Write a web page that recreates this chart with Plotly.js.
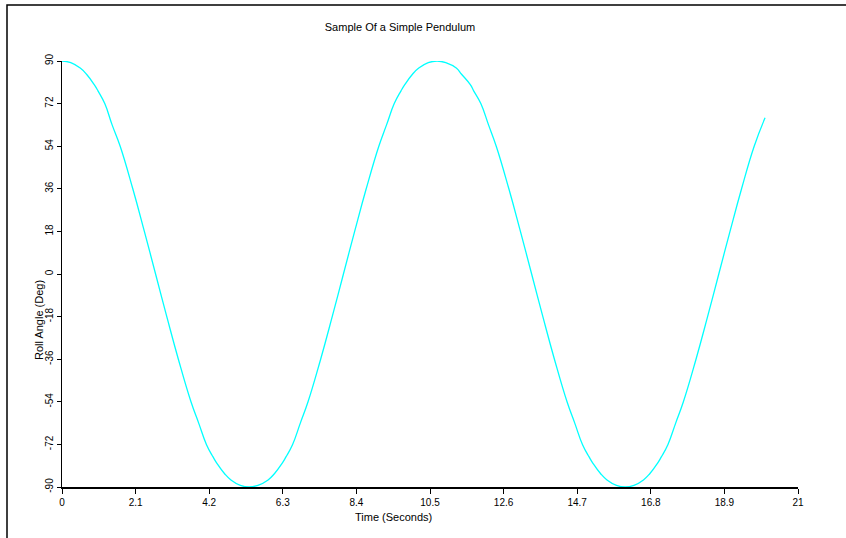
<!DOCTYPE html>
<html>
<head>
<meta charset="utf-8">
<script src="https://cdn.plot.ly/plotly-3.0.1.min.js"></script>
<style>
  html, body { margin: 0; padding: 0; background: #fff; }
  #chart { width: 846px; height: 538px; }
</style>
</head>
<body>
<div id="chart"></div>
<script>
// Pendulum roll angle samples over time (two and a bit swings)
const timeSec = [
  0, 0.25, 0.52, 0.70, 0.92, 1.03, 1.22, 1.43, 1.66, 2.02, 2.35, 2.67, 2.99, 3.32, 3.68, 3.90, 4.12, 4.31, 4.42, 4.64, 4.82, 5.09, 5.34,
  5.59, 5.88, 6.06, 6.28, 6.39, 6.58, 6.80, 7.02, 7.38, 7.71, 8.03, 8.35, 8.68, 9.04, 9.26, 9.48, 9.67, 9.78, 10.00, 10.18, 10.45, 10.70,
  10.95, 11.25, 11.40, 11.65, 11.75, 11.95, 12.17, 12.39, 12.75, 13.08, 13.40, 13.72, 14.05, 14.41, 14.63, 14.85, 15.04, 15.15, 15.37, 15.55, 15.82, 16.07,
  16.32, 16.59, 16.77, 16.99, 17.10, 17.29, 17.51, 17.73, 18.09, 18.42, 18.74, 19.06, 19.39, 19.75, 20.06
];
const rollDeg = [
  90, 89.3, 87, 84.4, 80, 77.3, 72, 63, 54, 36, 18, 0, -18, -36, -54, -63, -72, -77.3, -80, -84.4, -87, -89.3, -90,
  -89.3, -87, -84.4, -80, -77.3, -72, -63, -54, -36, -18, 0, 18, 36, 54, 63, 72, 77.3, 80, 84.4, 87, 89.3, 90,
  89.3, 87, 84.4, 80, 77.3, 72, 63, 54, 36, 18, 0, -18, -36, -54, -63, -72, -77.3, -80, -84.4, -87, -89.3, -90,
  -89.3, -87, -84.4, -80, -77.3, -72, -63, -54, -36, -18, 0, 18, 36, 54, 66
];

const xTicks = [0, 2.1, 4.2, 6.3, 8.4, 10.5, 12.6, 14.7, 16.8, 18.9, 21];
const yTicks = [-90, -72, -54, -36, -18, 0, 18, 36, 54, 72, 90];

const fontFamily = '"Liberation Sans", Arial, sans-serif';

const trace = {
  x: timeSec,
  y: rollDeg,
  type: 'scatter',
  mode: 'lines',
  line: { color: '#00ffff', width: 1.3, shape: 'spline', smoothing: 1.3 },
  hoverinfo: 'x+y'
};

// plot area: 62..798 px horizontally, 61..487 px vertically
const L = 62, R = 798, T = 61, B = 487, W = 846, H = 538;
const px = v => (v - L) / (R - L);
const py = v => (B - v) / (B - T);

const layout = {
  width: W,
  height: H,
  margin: { l: L, r: W - R, t: T, b: H - B, pad: 0 },
  paper_bgcolor: '#ffffff',
  plot_bgcolor: '#ffffff',
  showlegend: false,
  font: { family: fontFamily, color: '#000', size: 10 },
  title: {
    text: 'Sample Of a Simple Pendulum',
    font: { family: fontFamily, size: 11, color: '#000' },
    x: 400 / W, xanchor: 'center', xref: 'container',
    y: 1 - 27 / H, yanchor: 'middle', yref: 'container'
  },
  xaxis: {
    range: [0, 21],
    tickvals: xTicks,
    ticktext: xTicks.map(String),
    ticks: 'outside', ticklen: 5, tickwidth: 1, tickcolor: '#000',
    showline: true, linecolor: '#000', linewidth: 1.5,
    showgrid: false, zeroline: false, mirror: false,
    tickfont: { family: fontFamily, size: 10, color: '#000' }
  },
  yaxis: {
    range: [-90, 90],
    tickvals: yTicks,
    ticktext: yTicks.map(String),
    tickangle: -90,
    ticks: 'outside', ticklen: 4, tickwidth: 1, tickcolor: '#000',
    showline: true, linecolor: '#000', linewidth: 1.5,
    showgrid: false, zeroline: false, mirror: false,
    tickfont: { family: fontFamily, size: 10, color: '#000' }
  },
  annotations: [
    {
      text: 'Time (Seconds)',
      xref: 'paper', yref: 'paper',
      x: px(393), y: py(517),
      xanchor: 'center', yanchor: 'middle',
      showarrow: false,
      font: { family: fontFamily, size: 11, color: '#000' }
    },
    {
      text: 'Roll Angle (Deg)',
      xref: 'paper', yref: 'paper',
      x: px(39), y: py(320),
      xanchor: 'center', yanchor: 'middle',
      textangle: -90, showarrow: false,
      font: { family: fontFamily, size: 11, color: '#000' }
    }
  ],
  shapes: [{
    type: 'path',
    xref: 'paper', yref: 'paper',
    path: 'M ' + px(7) + ' ' + py(540) + ' L ' + px(7) + ' ' + py(5) + ' L ' + px(848) + ' ' + py(5),
    line: { color: '#000', width: 1.5 }
  }]
};

Plotly.newPlot('chart', [trace], layout, { displayModeBar: false, staticPlot: true });
</script>
</body>
</html>
